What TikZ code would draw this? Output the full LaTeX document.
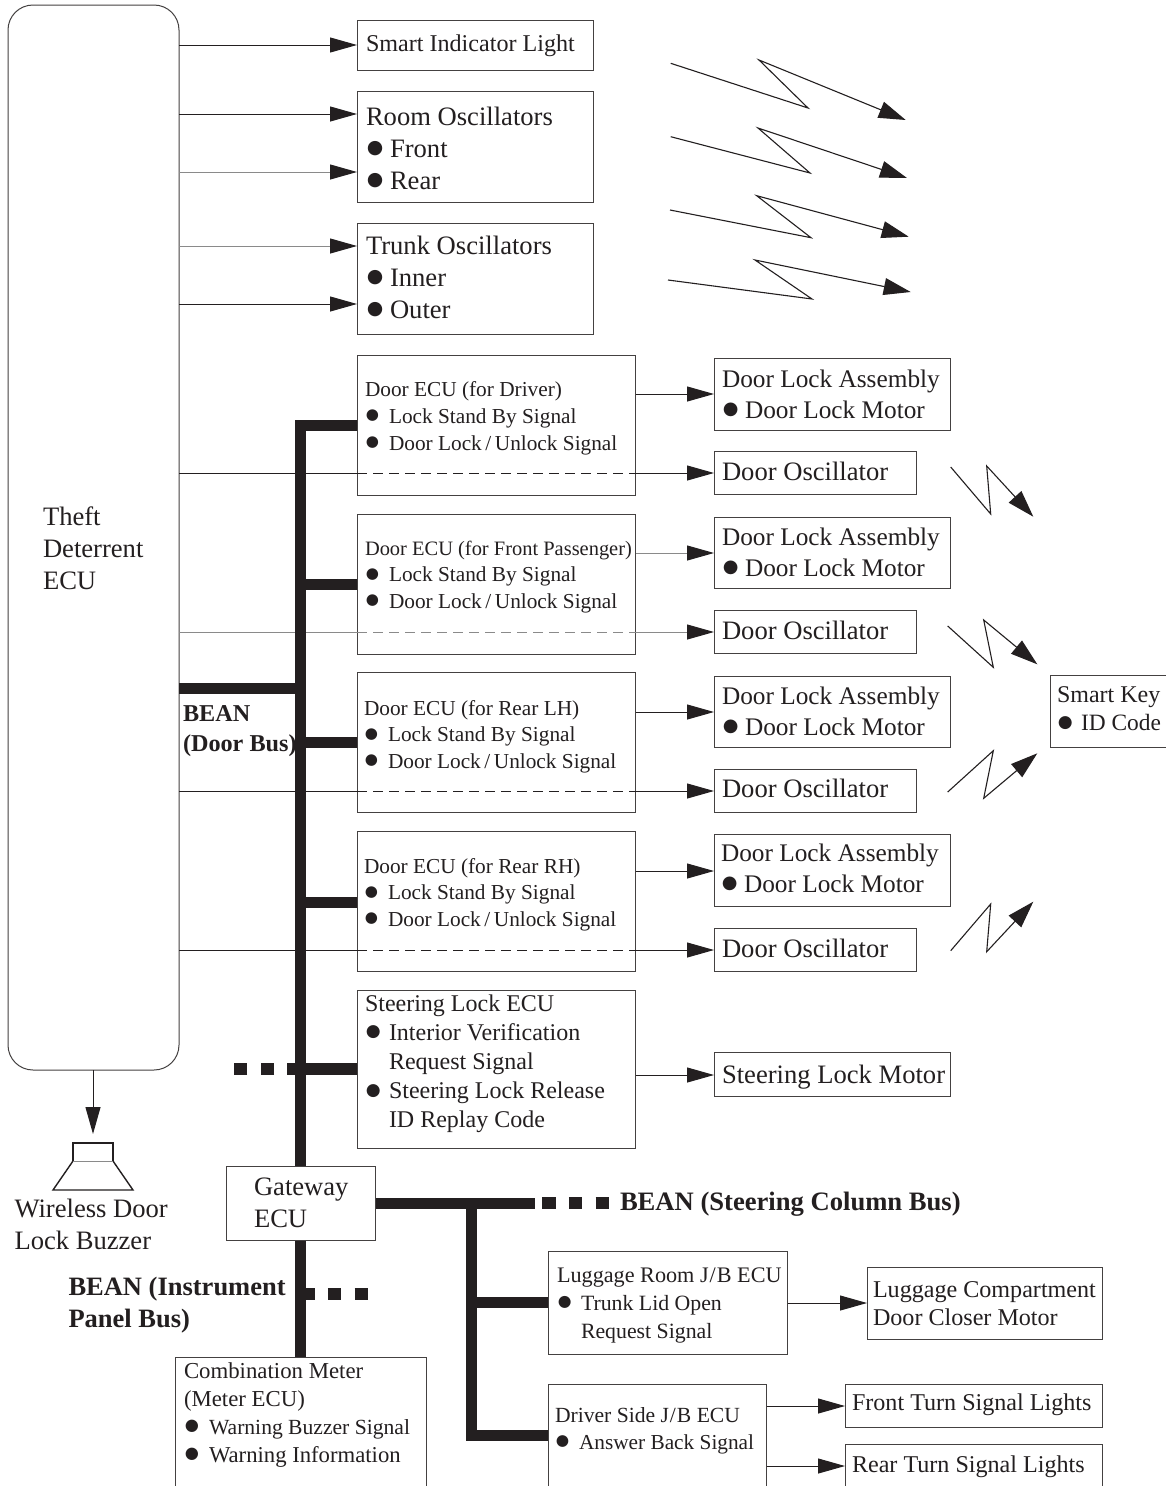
\documentclass[tikz,border=0pt]{standalone}
\usepackage{fontspec}
\usepackage{graphicx}
\setmainfont{Liberation Serif}
\newfontfamily\bulletfont{DejaVu Sans}
\usetikzlibrary{arrows.meta}
\definecolor{ink}{HTML}{231F20}
\definecolor{soft}{HTML}{8A8A8A}
\newcommand{\tb}[6]{\node[txt,font=\fontsize{#4}{#5}\selectfont] (#1) at (#2,#3-#4) {\rule{0pt}{#4pt}#6};}
\newcommand{\bl}[1]{\makebox[#1pt][l]{\hspace{0.8pt}\raisebox{0.145em}{\scalebox{0.71}{\bulletfont ●}}}}
\newcommand{\ind}[1]{\hspace*{#1pt}}
\newcommand{\fs}[2]{{\fontsize{#1}{#1}\selectfont #2}}
\newcommand{\bx}[5]{\node[boxst,minimum width={(#4-#2-0.5)*1pt},minimum height={(#5-#3-0.5)*1pt}] (#1) at (#2,#3) {};}
\newcommand{\hin}[4][]{\draw[arr,#1] (#2.east |- 0,#4) -- (#3.west |- 0,#4);}
\newcommand{\zap}[4]{\draw[zapline] #1 -- #2 -- #3 -- #4;}
\newcommand{\through}[4][]{%
 \draw[thinline,#1] (theft.east |- 0,#4) -- (#2.west |- 0,#4);
 \draw[thinline,dashed,dash pattern=on 10pt off 6pt,#1] (#2.west |- 0,#4) -- (#2.east |- 0,#4);
 \draw[arr,#1] (#2.east |- 0,#4) -- (#3.west |- 0,#4);}
\tikzset{
 x=1pt,y=-1pt,
 txt/.style={anchor=north west,inner sep=0pt,outer sep=0pt,align=left,text=ink},
 boxst/.style={draw=ink!85,line width=1pt,anchor=north west,inner sep=0pt,outer sep=0pt,fill=white},
 thinline/.style={draw=ink,line width=1pt},
 arr/.style={thinline,-{Triangle[length=27pt,width=15pt,color=ink,fill=ink]}},
 softline/.style={draw=soft},
 zapline/.style={draw=ink,line width=1.1pt,line join=miter,-{Triangle[length=27pt,width=17pt,fill=ink]}},
 bus/.style={draw=ink,line width=11pt},
 busdots/.style={draw=ink,line width=12pt,dash pattern=on 13.5pt off 13.3pt},
}
\begin{document}
\begin{tikzpicture}
\clip (0,0) rectangle (1166,1486);
\fill[white] (0,0) rectangle (1166,1486);
% ---------- boxes
\node[boxst,rounded corners=25pt,minimum width=171pt,minimum height=1065pt] (theft) at (8,5) {};
\bx{sil}{357}{20}{594}{71}
\bx{room}{357}{91}{594}{203}
\bx{trunk}{357}{223}{594}{335}
\bx{ecua}{357}{355}{636}{496}
\bx{ecub}{357}{514}{636}{655}
\bx{ecuc}{357}{672}{636}{813}
\bx{ecud}{357}{831}{636}{972}
\bx{steer}{357}{990}{636}{1149}
\bx{dlaa}{714}{358}{951}{431}
\bx{doa}{714}{451}{917}{495}
\bx{dlab}{714}{517}{951}{589}
\bx{dob}{714}{610}{917}{654}
\bx{dlac}{714}{676}{951}{748}
\bx{doc}{714}{769}{917}{813}
\bx{dlad}{714}{834}{951}{907}
\bx{dod}{714}{928}{917}{972}
\bx{slm}{714}{1052}{951}{1097}
\bx{skey}{1050}{675}{1175}{748}
\bx{gate}{226}{1166}{376}{1241}
\bx{lug}{548}{1251}{788}{1355}
\bx{lcm}{867}{1267}{1103}{1340}
\bx{djb}{548}{1384}{767}{1500}
\bx{ftl}{845}{1384}{1103}{1428}
\bx{rtl}{845}{1444}{1103}{1500}
\bx{meter}{175}{1357}{427}{1500}
% ---------- thin connectors
\hin{theft}{sil}{45}
\hin{theft}{room}{114}
\hin[softline]{theft}{room}{172}
\hin[softline]{theft}{trunk}{246}
\hin{theft}{trunk}{304}
\through{ecua}{doa}{473}
\through[softline]{ecub}{dob}{632}
\through{ecuc}{doc}{791}
\through{ecud}{dod}{950}
\hin{ecua}{dlaa}{394}
\hin[softline]{ecub}{dlab}{553}
\hin{ecuc}{dlac}{712}
\hin{ecud}{dlad}{871}
\hin{steer}{slm}{1075}
\hin{lug}{lcm}{1303}
\hin{djb}{ftl}{1406}
\hin{djb}{rtl}{1466}
\coordinate (buzztip) at (93,1134);
\draw[arr] (theft.south -| buzztip) -- (buzztip);
% ---------- buses
\coordinate (bustop) at (300.5,425.5);
\coordinate (dotsa) at (287,1069);
\coordinate (dotsastart) at (274,1069);
\coordinate (dotsaend) at (234,1069);
\coordinate (dotsb) at (301,1294);
\coordinate (dotsbend) at (368,1294);
\coordinate (colj) at (471.5,1203);
\coordinate (cols) at (535,1203);
\coordinate (dotsc) at (542,1203);
\coordinate (dotscend) at (610,1203);
\coordinate (colbot) at (471.5,1435);
\draw[bus,line join=miter] (ecua.west |- bustop) -- (bustop) -- (gate.north -| bustop);
\draw[bus] (theft.east |- 0,688) -- (bustop |- 0,688);
\draw[bus] (ecub.west |- 0,584) -- (bustop |- 0,584);
\draw[bus] (ecuc.west |- 0,742) -- (bustop |- 0,742);
\draw[bus] (ecud.west |- 0,902) -- (bustop |- 0,902);
\draw[draw=ink,line width=12pt] (steer.west |- dotsa) -- (dotsa);
\draw[busdots] (dotsastart) -- (dotsaend);
\draw[bus] (gate.south -| bustop) -- (meter.north -| bustop);
\draw[busdots] (dotsb) -- (dotsbend);
\draw[bus] (gate.east |- cols) -- (cols);
\draw[busdots] (dotsc) -- (dotscend);
\draw[bus,line join=miter] (colj) -- (colbot) -- (djb.west |- colbot);
\draw[bus] (lug.west |- 0,1302) -- (colj |- 0,1302);
% ---------- wireless symbols
\zap{(670.7,63.3)}{(808,108)}{(759,60)}{(905.7,120)}
\zap{(670.7,136.7)}{(810,173)}{(758,128)}{(907,178)}
\zap{(670,210)}{(811,237.7)}{(756.7,195.7)}{(908.7,236.7)}
\zap{(668,280)}{(812,299)}{(755,260)}{(910.7,292)}
\zap{(950.7,467)}{(990.7,514)}{(986.7,466)}{(1033.3,516.7)}
\zap{(947.7,626)}{(993.3,667.3)}{(983.7,620)}{(1037.3,664.3)}
\zap{(947.7,792)}{(993.3,750.7)}{(983.7,798.3)}{(1037.3,753.3)}
\zap{(950.7,950.7)}{(990.7,904)}{(986.7,951.7)}{(1033.3,901.7)}
% ---------- buzzer
\draw[draw=ink,line width=1.4pt,line join=miter] (73,1161) -- (73,1143) -- (113,1143) -- (113,1161);
\draw[draw=ink,line width=1.4pt,line join=miter] (73,1161) -- (53,1190) -- (133,1190) -- (113,1161);
\draw[draw=soft,line width=1pt] (73,1161) -- (113,1161);
% ---------- texts
\tb{theftt}{43}{525}{26.6}{32}{Theft\\Deterrent\\ECU}
\tb{silt}{366}{51}{24.1}{32}{Smart Indicator Light}
\tb{roomt}{366}{125}{26.6}{32}{Room Oscillators\\\bl{24}Front\\\bl{24}Rear}
\tb{trunkt}{366}{254}{26.6}{32}{Trunk Oscillators\\\bl{24}Inner\\\bl{24}Outer}
\tb{ecuat}{365}{396}{21.3}{27}{Door ECU (for Driver)\\\bl{24}Lock Stand By Signal\\\bl{24}Door Lock\,/\,Unlock Signal}
\tb{ecubt}{365}{555}{21.3}{26.5}{\fs{20.45}{Door ECU (for Front Passenger)}\\\bl{24}Lock Stand By Signal\\\bl{24}Door Lock\,/\,Unlock Signal}
\tb{ecuct}{364}{715}{21.3}{26.5}{Door ECU (for Rear LH)\\\bl{24}Lock Stand By Signal\\\bl{24}Door Lock\,/\,Unlock Signal}
\tb{ecudt}{364}{873}{21.3}{26.5}{Door ECU (for Rear RH)\\\bl{24}Lock Stand By Signal\\\bl{24}Door Lock\,/\,Unlock Signal}
\tb{steert}{365}{1011}{24}{29.2}{Steering Lock ECU\\\bl{24}Interior Verification\\\ind{24}Request Signal\\\bl{24}Steering Lock Release\\\ind{24}ID Replay Code}
\tb{dlaat}{722}{387}{25.3}{31}{Door Lock Assembly\\\bl{23}Door Lock Motor}
\tb{dlabt}{722}{545}{25.3}{31}{Door Lock Assembly\\\bl{23}Door Lock Motor}
\tb{dlact}{722}{704}{25.3}{31}{Door Lock Assembly\\\bl{23}Door Lock Motor}
\tb{dladt}{721}{861}{25.3}{31}{Door Lock Assembly\\\bl{23}Door Lock Motor}
\tb{doat}{722}{480.5}{26.6}{32}{Door Oscillator}
\tb{dobt}{722}{639.5}{26.6}{32}{Door Oscillator}
\tb{doct}{722}{797.5}{26.6}{32}{Door Oscillator}
\tb{dodt}{722}{957}{26.6}{32}{Door Oscillator}
\tb{slmt}{722}{1083}{26.6}{32}{Steering Lock Motor}
\tb{skeyt}{1057}{702}{24}{28.5}{Smart Key\\\bl{24}\fs{23.4}{ID Code}}
\tb{gatet}{254}{1195}{26.6}{32}{Gateway\\ECU}
\tb{buzzt}{14.5}{1217}{26.6}{32}{Wireless Door\\Lock Buzzer}
\tb{beana}{183}{721}{24.2}{30}{\bfseries BEAN\\\bfseries (Door Bus)}
\tb{beanb}{68.5}{1295}{26.5}{32}{\bfseries BEAN (Instrument\\\bfseries Panel Bus)}
\tb{beanc}{620}{1210}{26.6}{32}{\bfseries BEAN (Steering Column Bus)}
\tb{metert}{184}{1378}{22.8}{28}{Combination Meter\\(Meter ECU)\\\bl{25}\fs{21.6}{Warning Buzzer Signal}\\\bl{25}\fs{22.7}{Warning Information}}
\tb{lugt}{557}{1282}{22.2}{28}{Luggage Room J\kern1pt/\kern1pt B ECU\\\bl{24}\fs{21.8}{Trunk Lid Open}\\\ind{24}\fs{21.8}{Request Signal}}
\tb{lcmt}{873}{1297}{24.1}{28}{Luggage Compartment\\Door Closer Motor}
\tb{djbt}{555}{1422}{21.6}{27}{Driver Side J\kern1pt/\kern1pt B ECU\\\bl{24}\fs{21.3}{Answer Back Signal}}
\tb{ftlt}{852}{1410}{24.1}{32}{Front Turn Signal Lights}
\tb{rtlt}{852}{1472}{24.1}{32}{Rear Turn Signal Lights}
\end{tikzpicture}
\end{document}
